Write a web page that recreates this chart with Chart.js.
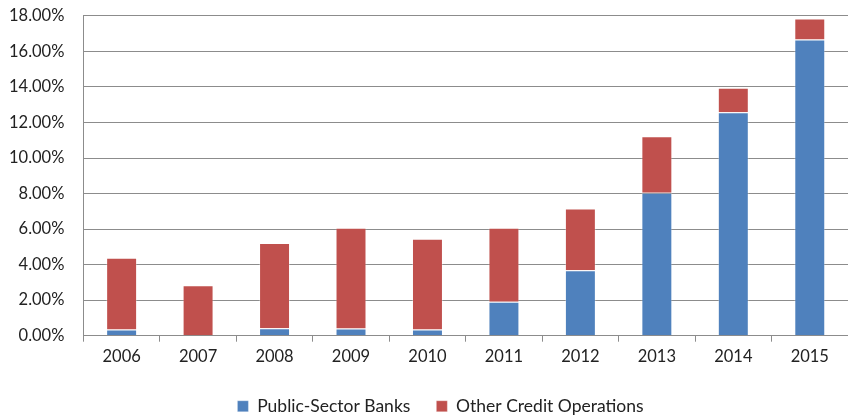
<!DOCTYPE html>
<html>
<head>
<meta charset="utf-8">
<script src="https://cdn.jsdelivr.net/npm/chart.js@4"></script>
<style>
    html, body { margin: 0; padding: 0; background: #fff; }
    #wrap { width: 848px; height: 415px; }
</style>
</head>
<body>
<div id="wrap"><canvas id="creditChart"></canvas></div>
<script>
var years = ['2006', '2007', '2008', '2009', '2010', '2011', '2012', '2013', '2014', '2015'];
var publicBanks = [0.35, 0.0, 0.42, 0.41, 0.35, 1.91, 3.69, 8.05, 12.57, 16.67];
var otherCredit = [4.04, 2.84, 4.80, 5.67, 5.11, 4.16, 3.47, 3.18, 1.38, 1.18];
var yTicks = [0, 2, 4, 6, 8, 10, 12, 14, 16, 18];

// nudge the bottom legend a little right of the canvas centre
var legendShift = {
    id: 'legendShift',
    afterLayout: function(chart) {
        chart.legend.left += 15;
        chart.legend.right += 15;
    }
};

document.addEventListener('DOMContentLoaded', function() {
    var ctx = document.getElementById('creditChart');
    new Chart(ctx, {
        type: 'bar',
        data: {
            labels: years,
            datasets: [{
                label: 'Public-Sector Banks',
                data: publicBanks,
                backgroundColor: '#4f81bd',
                borderColor: 'rgba(255, 255, 255, 0.3)',
                borderWidth: 1,
                categoryPercentage: 1,
                barPercentage: 0.405
            }, {
                label: 'Other Credit Operations',
                data: otherCredit,
                backgroundColor: '#c0504d',
                borderColor: 'rgba(255, 255, 255, 0.3)',
                borderWidth: 1,
                categoryPercentage: 1,
                barPercentage: 0.405
            }]
        },
        options: {
            responsive: true,
            maintainAspectRatio: false,
            animation: false,
            layout: {
                padding: { top: 0, right: 0, left: 3, bottom: -10 }
            },
            plugins: {
                legend: {
                    position: 'bottom',
                    labels: {
                        boxWidth: 11,
                        boxHeight: 11,
                        padding: 26,
                        color: '#222',
                        font: { family: 'Lato', size: 17.5 }
                    }
                },
                tooltip: { enabled: false }
            },
            scales: {
                x: {
                    stacked: true,
                    grid: {
                        offset: true,
                        drawOnChartArea: false,
                        color: '#8c8c8c',
                        tickLength: 6
                    },
                    border: { color: '#8c8c8c' },
                    ticks: {
                        color: '#222',
                        padding: 5,
                        font: { family: 'Lato', size: 16.5 }
                    }
                },
                y: {
                    stacked: true,
                    min: 0,
                    max: 18,
                    afterBuildTicks: function(axis) {
                        axis.ticks = yTicks.map(function(v) { return { value: v }; });
                    },
                    grid: {
                        color: '#8c8c8c',
                        tickLength: 13,
                        tickColor: 'transparent'
                    },
                    border: { color: '#8c8c8c' },
                    ticks: {
                        color: '#222',
                        padding: 6,
                        font: { family: 'Lato', size: 16.5 },
                        callback: function(v) { return v.toFixed(2) + '%'; }
                    }
                }
            }
        },
        plugins: [legendShift]
    });
});
</script>
</body>
</html>
